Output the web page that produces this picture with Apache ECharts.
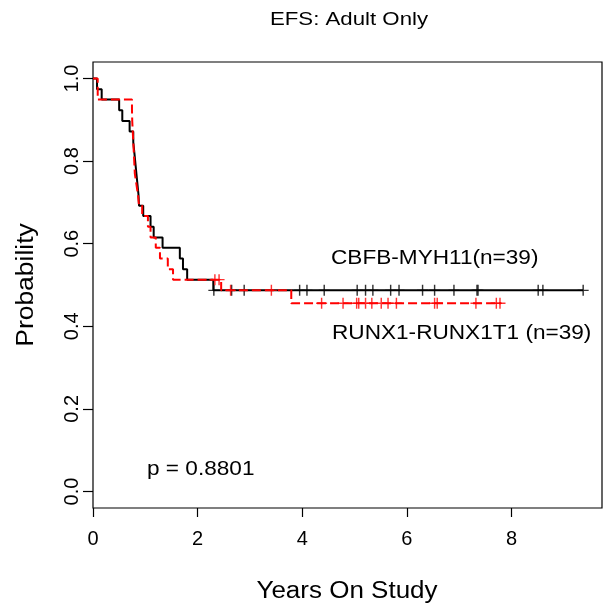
<!DOCTYPE html>
<html>
<head>
<meta charset="utf-8">
<script src="https://cdn.jsdelivr.net/npm/echarts@6/dist/echarts.min.js"></script>
<style>html,body{margin:0;padding:0;background:#fff}#c{width:608px;height:609px}</style>
</head>
<body>
<div id="c"></div>
<script>
// Kaplan-Meier steps: [time (years), survival]
var cbfbSteps = [[0,1],[0.077,0.974],[0.166,0.949],[0.50,0.923],[0.56,0.897],[0.70,0.872],
  [0.77,0.846],[0.79,0.821],[0.81,0.795],[0.83,0.769],[0.85,0.744],[0.87,0.718],[0.88,0.692],
  [0.96,0.667],[1.10,0.641],[1.16,0.615],[1.33,0.590],[1.66,0.564],[1.72,0.538],[1.80,0.513],
  [2.30,0.487],[9.37,0.487]];
var cbfbCensor = [2.31,2.65,2.89,3.95,4.09,4.42,5.05,5.21,5.35,5.69,5.85,6.30,6.53,6.90,7.34,7.36,8.51,8.60,9.37];

var runxSteps = [[0,1],[0.09,0.949],[0.745,0.923],[0.75,0.897],[0.76,0.872],[0.77,0.846],
  [0.78,0.821],[0.79,0.795],[0.80,0.769],[0.83,0.744],[0.86,0.718],[0.88,0.692],[0.94,0.667],
  [1.05,0.641],[1.10,0.615],[1.20,0.590],[1.28,0.564],[1.43,0.538],[1.53,0.513],[2.45,0.487],
  [3.79,0.456],[7.80,0.456]];
var runxCensor = [2.33,2.41,2.63,3.41,4.37,4.78,5.04,5.08,5.21,5.33,5.51,5.64,5.80,6.53,6.58,7.32,7.71,7.78];

var xTicks = [0,2,4,6,8];
var yTicks = [0,0.2,0.4,0.6,0.8,1.0];
var titleText = 'EFS: Adult Only';
var xName = 'Years On Study';
var yName = 'Probability';
var label1 = 'CBFB-MYH11(n=39)';
var label2 = 'RUNX1-RUNX1T1 (n=39)';
var pText = 'p = 0.8801';

function survAt(steps, t){
  var s = steps[0][1];
  for (var i=0;i<steps.length;i++){ if (steps[i][0] <= t) s = steps[i][1]; }
  return s;
}
var plus = 'path://M-0.13,-1 L0.13,-1 L0.13,-0.13 L1,-0.13 L1,0.13 L0.13,0.13 L0.13,1 L-0.13,1 L-0.13,0.13 L-1,0.13 L-1,-0.13 L-0.13,-0.13 Z';
var font = 'Liberation Sans, Arial, Helvetica, sans-serif';
var sx = 1.13;

var chart = echarts.init(document.getElementById('c'), null, {renderer:'canvas'});
chart.setOption({
  backgroundColor:'#fff',
  animation:false,
  grid:{left:93, right:6, top:62, bottom:101, show:true, borderColor:'#000', borderWidth:1.2, backgroundColor:'transparent'},
  xAxis:{type:'value', min:0, max:9.73,
    axisLine:{show:false, onZero:false},
    splitLine:{show:false},
    axisTick:{show:true, inside:false, length:9, lineStyle:{color:'#000', width:1.2}, customValues:xTicks},
    axisLabel:{customValues:xTicks, color:'#000', fontSize:20, fontFamily:font, margin:21}
  },
  yAxis:{type:'value', min:-0.04, max:1.04,
    axisLine:{show:false, onZero:false},
    splitLine:{show:false},
    axisTick:{show:true, inside:false, length:10, lineStyle:{color:'#000', width:1.2}, customValues:yTicks},
    axisLabel:{customValues:yTicks, color:'#000', fontSize:20, fontFamily:font, margin:11, rotate:90,
      formatter:function(v){return v.toFixed(1);}}
  },
  series:[
    {type:'line', step:'end', data:cbfbSteps, showSymbol:false, symbol:'none',
      lineStyle:{color:'#000', width:2}, z:2},
    {type:'scatter', data:cbfbCensor.map(function(t){return [t, survAt(cbfbSteps,t)];}),
      symbol:plus, symbolSize:[11,11], itemStyle:{color:'#000'}, z:3},
    {type:'line', step:'end', data:runxSteps, showSymbol:false, symbol:'none',
      lineStyle:{color:'#ff0000', width:2, type:[9,4]}, z:4},
    {type:'scatter', data:runxCensor.map(function(t){return [t, survAt(runxSteps,t)];}),
      symbol:plus, symbolSize:[11,11], itemStyle:{color:'#ff0000'}, z:5}
  ],
  graphic:[
    {type:'text', x:349, y:20, scaleX:1.17, style:{text:titleText, x:0, y:0, align:'center', verticalAlign:'middle', fill:'#000', font:'19px '+font}},
    {type:'text', x:347, y:592, scaleX:sx, style:{text:xName, x:0, y:0, align:'center', verticalAlign:'middle', fill:'#000', font:'23px '+font}},
    {type:'text', rotation:Math.PI/2, x:27, y:285, scaleX:1.15, style:{text:yName, x:0, y:0, align:'center', verticalAlign:'middle', fill:'#000', font:'23px '+font}},
    {type:'text', x:331, y:258, scaleX:sx, style:{text:label1, x:0, y:0, align:'left', verticalAlign:'middle', fill:'#000', font:'20px '+font}},
    {type:'text', x:332, y:333, scaleX:sx, style:{text:label2, x:0, y:0, align:'left', verticalAlign:'middle', fill:'#000', font:'20px '+font}},
    {type:'text', x:147, y:469, scaleX:sx, style:{text:pText, x:0, y:0, align:'left', verticalAlign:'middle', fill:'#000', font:'20px '+font}}
  ]
});
</script>
</body>
</html>
